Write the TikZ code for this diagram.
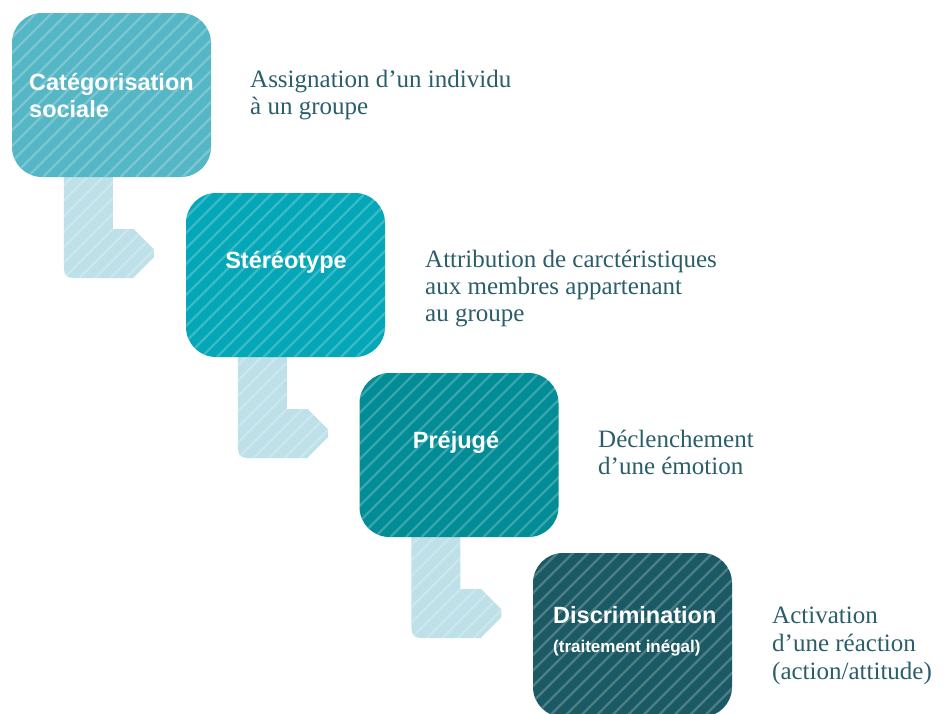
\documentclass[tikz,border=0pt]{standalone}
\usepackage{fontspec}
\setmainfont{Liberation Serif}
\newfontfamily\hvfont{Liberation Sans}
\usetikzlibrary{calc,backgrounds}
\definecolor{cA}{HTML}{55B6C5}
\definecolor{cB}{HTML}{03A7B7}
\definecolor{cC}{HTML}{028C95}
\definecolor{cD}{HTML}{1B5A65}
\definecolor{cL}{HTML}{BEE0E8}
\definecolor{dtext}{HTML}{2A5E6A}
\tikzset{
  hatch/.style={path picture={
    \foreach \k in {-30,...,30}{
      \draw[white, opacity=#1, line width=2.2pt]
        ($(path picture bounding box.south west)+(\k*15.5pt,0pt)$) -- ++(400pt,400pt);}}},
  stepbox/.style={draw=none, rounded corners=30pt, minimum width=199pt,
    minimum height=164pt, inner sep=0pt, hatch=0.22},
  lbl/.style={font=\hvfont\bfseries\fontsize{23.5}{27}\selectfont, text=white, inner sep=0pt},
  lblsmall/.style={font=\hvfont\bfseries\fontsize{17}{20}\selectfont, text=white, inner sep=0pt},
  desc/.style={font=\fontsize{25}{27}\selectfont, text=dtext, inner sep=0pt, anchor=base west},
  connfill/.style={fill=cL, hatch=0.22},
}
\newcommand\lconn[1]{%
  \path[connfill] let \p1=(#1.south west) in
    (\x1+52pt,\y1+10pt) -- (\x1+101pt,\y1+10pt) -- (\x1+101pt,\y1-52pt)
    -- (\x1+122pt,\y1-52pt) -- (\x1+142pt,\y1-72pt) -- (\x1+142pt,\y1-80pt)
    -- (\x1+121pt,\y1-101pt) -- (\x1+72pt,\y1-101pt)
    .. controls (\x1+52pt,\y1-101pt) .. (\x1+52pt,\y1-81pt) -- cycle;}
\begin{document}
\begin{tikzpicture}[x=1pt,y=-1pt]
\useasboundingbox (0,0) rectangle (945,713);
\clip (0,0) rectangle (945,713);
% boxes
\node[stepbox, fill=cA] (b1) at (111.5,95) {};
\node[stepbox, fill=cB] (b2) at (285.5,275) {};
\node[stepbox, fill=cC] (b3) at (459,455) {};
\node[stepbox, fill=cD] (b4) at (632.5,635) {};
% connectors
\begin{scope}[on background layer]
  \lconn{b1}
  \lconn{b2}
  \lconn{b3}
\end{scope}
% box labels
\node[lbl, anchor=base west] (l1a) at (29,90) {Catégorisation};
\node[lbl, anchor=base west] (l1b) at (29,117) {sociale};
\node[lbl, anchor=base] (l2) at (286,268) {Stéréotype};
\node[lbl, anchor=base] (l3) at (456,448) {Préjugé};
\node[lbl, anchor=base west] (l4a) at (553,623) {Discrimination};
\node[lblsmall, anchor=base west] (l4b) at (553,652) {(traitement inégal)};
% descriptions
\node[desc] (d1a) at (250,87) {Assignation d’un individu};
\node[desc] (d1b) at (250,114) {à un groupe};
\node[desc] (d2a) at (425,267) {Attribution de carctéristiques};
\node[desc] (d2b) at (425,294) {aux membres appartenant};
\node[desc] (d2c) at (425,321) {au groupe};
\node[desc] (d3a) at (598,447) {Déclenchement};
\node[desc] (d3b) at (598,474) {d’une émotion};
\node[desc] (d4a) at (772,623) {Activation};
\node[desc] (d4b) at (772,651) {d’une réaction};
\node[desc] (d4c) at (772,679) {(action/attitude)};
\end{tikzpicture}
\end{document}
